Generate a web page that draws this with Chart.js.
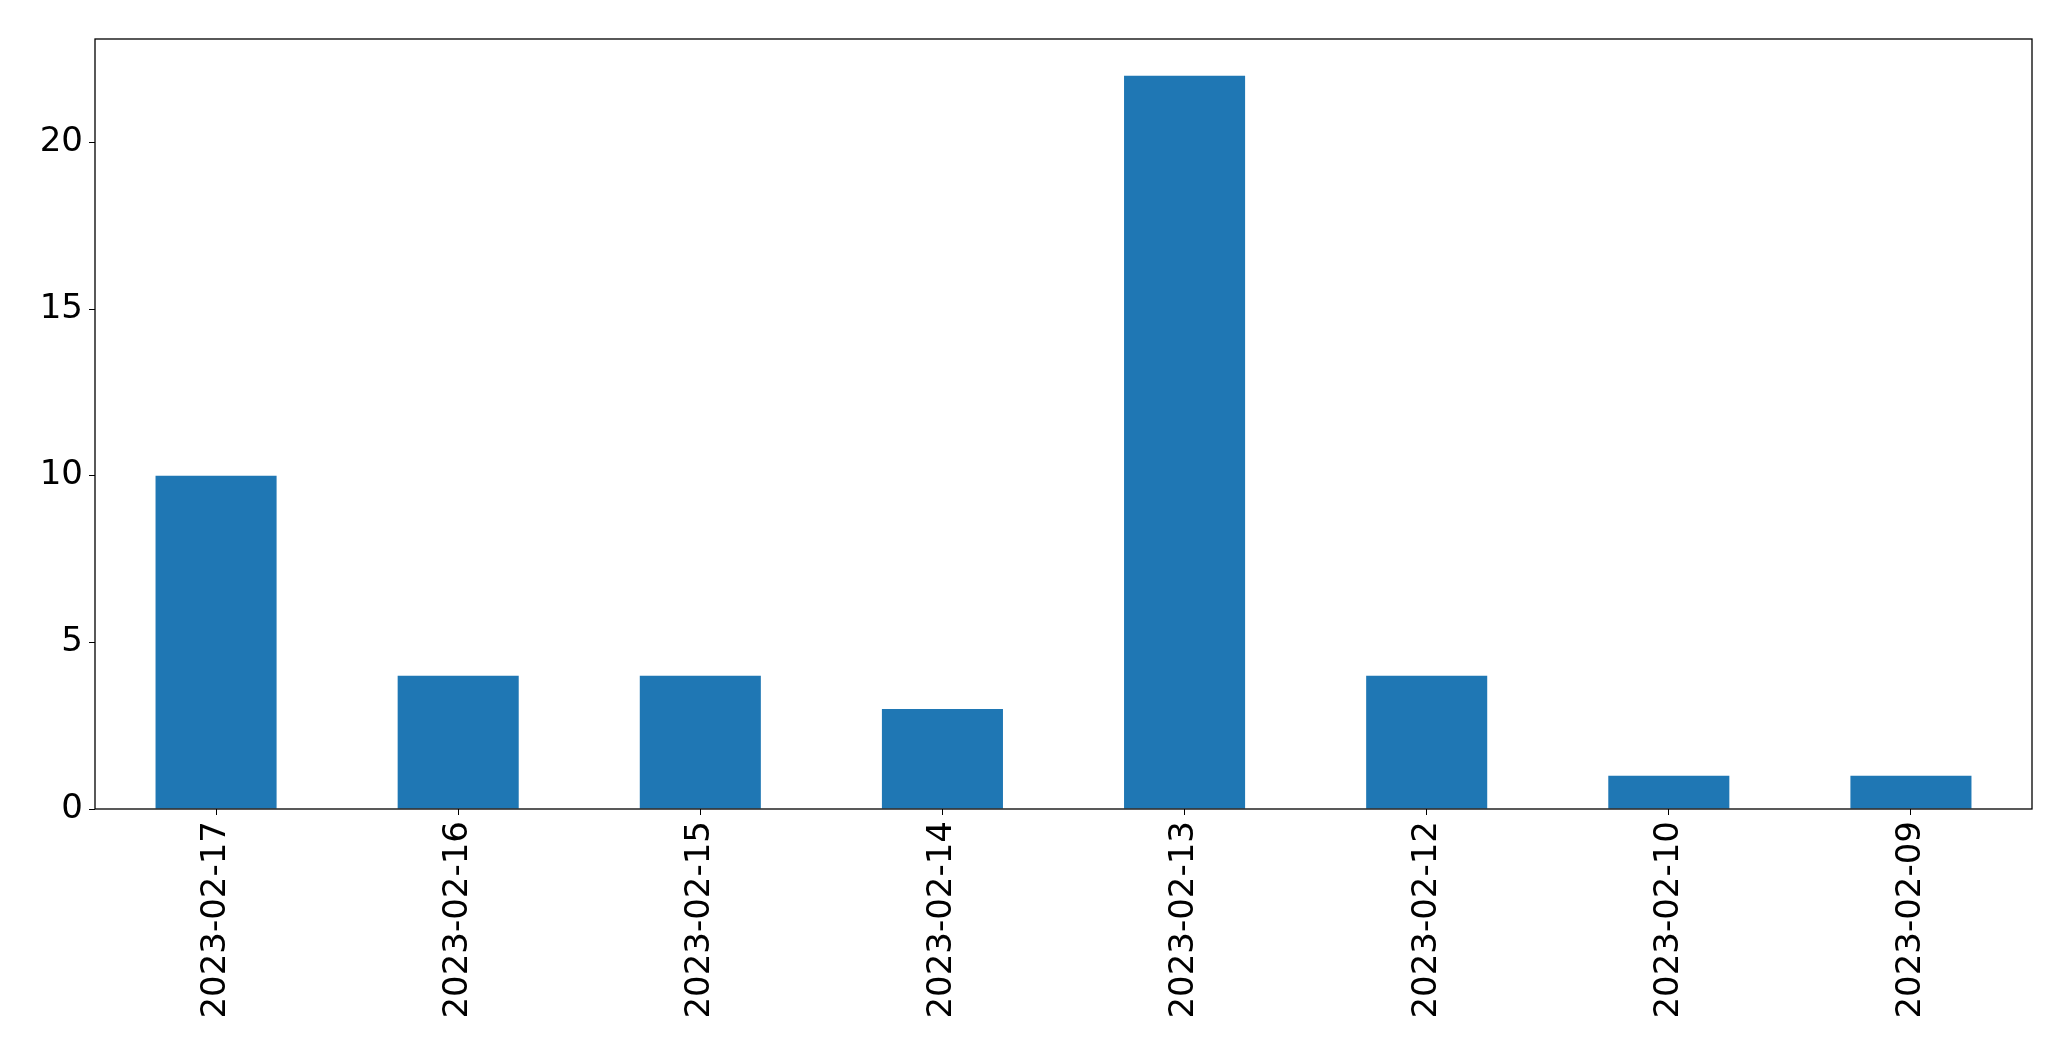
<!DOCTYPE html>
<html>
<head>
<meta charset="utf-8">
<script src="https://cdn.jsdelivr.net/npm/chart.js@4.4.1/dist/chart.umd.min.js"></script>
<style>
  body { margin: 0; background: #fff; }
  #wrap { width: 2071px; height: 1061px; position: relative; }
</style>
</head>
<body>
<div id="wrap"><canvas id="graphique"></canvas></div>
<script>
const dates = ["2023-02-17", "2023-02-16", "2023-02-15", "2023-02-14", "2023-02-13", "2023-02-12", "2023-02-10", "2023-02-09"];
const nombres = [10, 4, 4, 3, 22, 4, 1, 1];
const yTicks = [0, 5, 10, 15, 20];

// cadre noir autour de la zone du graphique
const cadre = {
  id: "cadre",
  afterDraw(chart) {
    const a = chart.chartArea;
    const ctx = chart.ctx;
    ctx.save();
    ctx.strokeStyle = "#000";
    ctx.lineWidth = 1.3;
    ctx.strokeRect(a.left, a.top, a.right - a.left, a.bottom - a.top);
    ctx.restore();
  }
};

const police = { family: "DejaVu Sans", size: 34 };

new Chart(document.getElementById("graphique"), {
  type: "bar",
  data: {
    labels: dates,
    datasets: [{
      data: nombres,
      backgroundColor: "#1f77b4",
      barPercentage: 0.5,
      categoryPercentage: 1.0
    }]
  },
  options: {
    responsive: true,
    maintainAspectRatio: false,
    animation: false,
    layout: { padding: { top: 39, right: 39, left: 0, bottom: 0 } },
    plugins: { legend: { display: false }, tooltip: { enabled: false } },
    scales: {
      x: {
        grid: { display: true, drawOnChartArea: false, drawTicks: true, tickLength: 6, color: "#000", offset: false },
        border: { display: false },
        ticks: { color: "#000", font: police, maxRotation: 90, minRotation: 90, padding: 6, autoSkip: false },
        afterFit(axis) { axis.height = 252; }
      },
      y: {
        min: 0,
        max: 23.1,
        grid: { display: true, drawOnChartArea: false, drawTicks: true, tickLength: 6, color: "#000" },
        border: { display: false },
        afterBuildTicks(axis) { axis.ticks = yTicks.map(v => ({ value: v })); },
        ticks: { color: "#000", font: police, padding: 6 },
        afterFit(axis) { axis.width = 95; }
      }
    }
  },
  plugins: [cadre]
});
</script>
</body>
</html>
